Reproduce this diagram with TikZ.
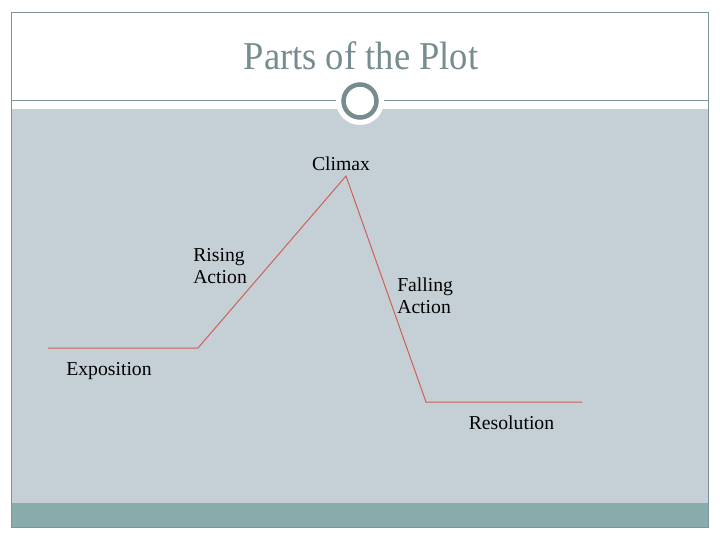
\documentclass[tikz,border=0pt]{standalone}
\usepackage{fontspec}
\setmainfont{Liberation Serif}

\definecolor{bodygrey}{RGB}{197,208,214}
\definecolor{bartea}{RGB}{138,171,172}
\definecolor{framegrey}{RGB}{125,148,150}
\definecolor{titlegrey}{RGB}{118,140,142}
\definecolor{plotred}{RGB}{205,95,85}

\tikzset{
	plotline/.style={draw=plotred, line width=0.7pt},
	plotlabel/.style={font=\fontsize{14}{15.6}\selectfont, inner sep=0pt, align=left}
}

\begin{document}
\begin{tikzpicture}[x=0.025cm,y=-0.025cm]
	\useasboundingbox (0,0) rectangle (720,540);
	%background
	\fill[white] (0,0) rectangle (720,540);
	\fill[bodygrey] (11,109) rectangle (708,503);
	\fill[bartea] (11,503) rectangle (708,527);
	\draw[framegrey, line width=0.6pt] (11,12) rectangle (708,527);
	\draw[framegrey, line width=0.6pt] (11,100)--(708,100);
	
	%title
	\node[text=titlegrey, font=\fontsize{26}{30}\selectfont, yscale=1.08] (title) at (361,56) {Parts of the Plot};
	\fill[white] (360,101) circle (24);
	\draw[titlegrey, line width=3.2pt] (360,101) circle (16.5);
	
	%plot
	\coordinate (start)  at (48,348);
	\coordinate (rise)   at (198,348);
	\coordinate (peak)   at (346,176);
	\coordinate (fall)   at (426,402);
	\coordinate (finish) at (582,402);
	\draw[plotline] (start)--(rise)--(peak)--(fall)--(finish);
	
	%labels
	\node[plotlabel, anchor=base] (climax)     at (341,170.5) {Climax};
	\node[plotlabel, anchor=base] (exposition) at (109,375)   {Exposition};
	\node[plotlabel, anchor=base] (resolution) at (511.5,429) {Resolution};
	\node[plotlabel, anchor=north west] (rising)  at (193,248) {Rising\\Action};
	\node[plotlabel, anchor=north west] (falling) at (397,278) {Falling\\Action};
\end{tikzpicture}
\end{document}
